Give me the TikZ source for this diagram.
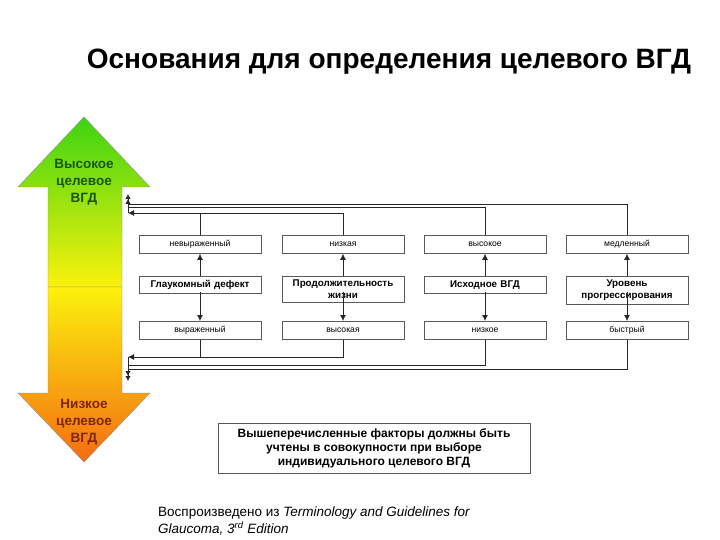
\documentclass[tikz,border=0pt]{standalone}
\usepackage{fontspec}
\setmainfont{Liberation Sans}
\usetikzlibrary{arrows.meta, positioning}

\definecolor{topgreen}{RGB}{60,212,18}
\definecolor{midyellow}{RGB}{252,242,12}
\definecolor{loworange}{RGB}{244,108,18}
\definecolor{hitext}{RGB}{28,85,18}
\definecolor{lotext}{RGB}{125,38,12}

\tikzset{
  lvlbox/.style={draw=black!65, fill=white, line width=0.8pt, minimum width=122pt,
    minimum height=18pt, inner sep=1pt, font=\fontsize{8.6}{10}\selectfont, anchor=north},
  factorbox/.style={draw=black!65, fill=white, line width=0.8pt, minimum width=122pt,
    minimum height=17pt, text width=116pt, align=center, inner xsep=3pt, inner ysep=3.5pt,
    font=\fontsize{9.8}{12}\selectfont\bfseries, anchor=north},
  link/.style={line width=0.8pt, black!85},
  tip/.style={-{Latex[length=6pt,width=6pt]}}
}

\begin{document}
\begin{tikzpicture}[x=1pt, y=-1pt]
    \useasboundingbox (0,0) rectangle (720,540);

    \node (title) at (389,62) {\fontsize{28}{32}\selectfont\bfseries Основания для определения целевого ВГД};

    % big double arrow
    \shade[top color=topgreen, bottom color=midyellow, draw=black!45]
      (84,117) -- (150,187) -- (122,187) -- (122,287) -- (48,287) -- (48,187) -- (18,187) -- cycle;
    \shade[top color=midyellow, bottom color=loworange, draw=black!45]
      (48,287) -- (122,287) -- (122,393) -- (150,393) -- (84,462) -- (18,393) -- (48,393) -- cycle;
    \node[align=center, text=hitext, font=\fontsize{13.5}{17}\selectfont\bfseries] (hiTxt) at (84,182) {Высокое\\целевое\\ВГД};
    \node[align=center, text=lotext, font=\fontsize{13.5}{17}\selectfont\bfseries] (loTxt) at (84,422) {Низкое\\целевое\\ВГД};

    % factor columns
    \node[lvlbox] (d1t) at (200,235) {невыраженный};
    \node[factorbox] (d1m) at (200,276) {Глаукомный дефект};
    \node[lvlbox] (d1b) at (200,321) {выраженный};

    \node[lvlbox] (d2t) at (343,235) {низкая};
    \node[factorbox] (d2m) at (343,276) {Продолжительность\\жизни};
    \node[lvlbox] (d2b) at (343,321) {высокая};

    \node[lvlbox] (d3t) at (485,235) {высокое};
    \node[factorbox] (d3m) at (485,276) {Исходное ВГД};
    \node[lvlbox] (d3b) at (485,321) {низкое};

    \node[lvlbox] (d4t) at (627,235) {медленный};
    \node[factorbox] (d4m) at (627,276) {Уровень\\прогрессирования};
    \node[lvlbox] (d4b) at (627,321) {быстрый};

    \foreach \c in {1,2,3,4} {
      \draw[link,tip] (d\c m.north) -- (d\c t.south);
      \draw[link,tip] ([yshift=-16pt]d\c m.north) -- (d\c b.north);
    }

    % feedback lines to the arrow
    \coordinate (fbA) at (128,213);
    \coordinate (fbB) at (128,207);
    \coordinate (fbC) at (128,204);
    \coordinate (fbUp) at (128,194);
    \coordinate (fbD) at (128,357);
    \coordinate (fbE) at (128,365);
    \coordinate (fbF) at (128,369);
    \coordinate (fbDown) at (128,381);

    \draw[link,tip] (d1t.north) |- (fbA);
    \draw[link] (d2t.north) |- (d1t.north |- fbA);
    \draw[link] (d3t.north) |- (fbB);
    \draw[link] (d4t.north) |- (fbC);
    \draw[link,-{Latex[length=5pt,width=5.5pt] Latex[length=5pt,width=5.5pt]}] (fbA) -- (fbUp);

    \draw[link,tip] (d1b.south) |- (fbD);
    \draw[link] (d2b.south) |- (d1b.south |- fbD);
    \draw[link] (d3b.south) |- (fbE);
    \draw[link] (d4b.south) |- (fbF);
    \draw[link,-{Latex[length=5pt,width=5.5pt] Latex[length=5pt,width=5.5pt]}] (fbD) -- (fbDown);

    \node[draw=black!65, line width=0.8pt, minimum width=312pt, minimum height=50pt, align=center,
      font=\fontsize{12}{14}\selectfont\bfseries] (summary) at (374,448)
      {Вышеперечисленные факторы должны быть\\учтены в совокупности при выборе\\индивидуального целевого ВГД};

    \node[anchor=west, align=left, inner sep=0pt, font=\fontsize{13.5}{17}\selectfont] (source) at (158,521)
      {Воспроизведено из \textit{Terminology and Guidelines for}\\\textit{Glaucoma, 3\textsuperscript{rd} Edition}};
\end{tikzpicture}
\end{document}
